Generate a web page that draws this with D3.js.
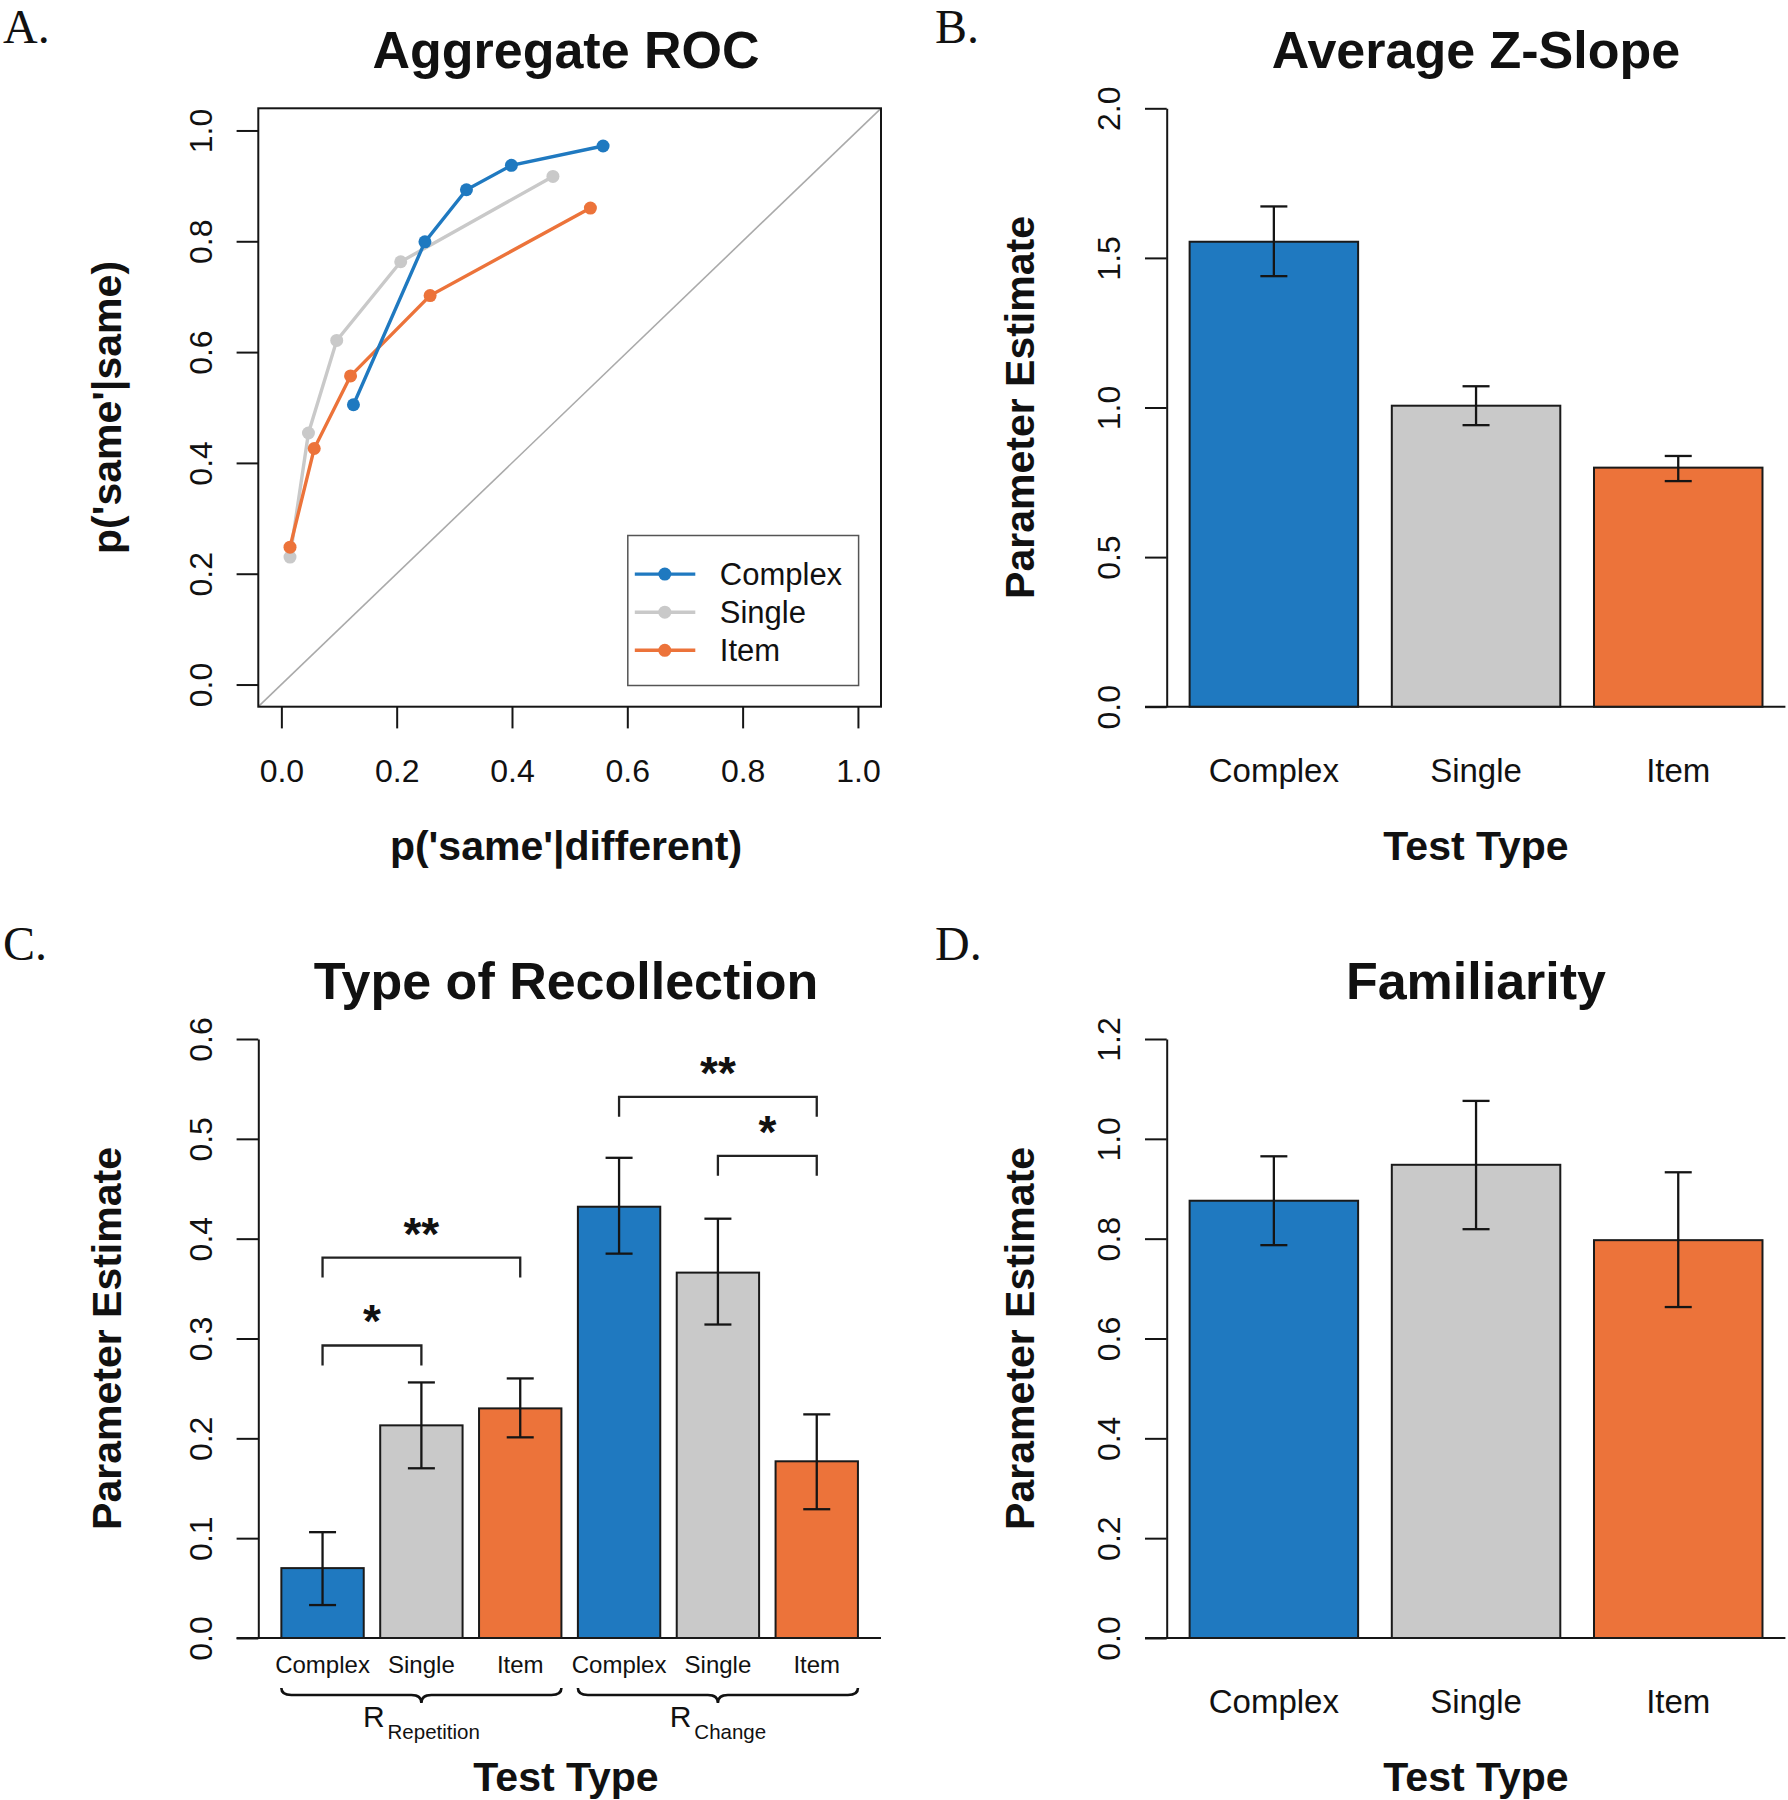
<!DOCTYPE html>
<html>
<head>
<meta charset="utf-8">
<script src="https://cdn.jsdelivr.net/npm/d3@7"></script>
<style>
  body { margin: 0; background: #fff; }
  svg text { font-family: "Liberation Sans", Arial, Helvetica, sans-serif; fill: #111; }
</style>
</head>
<body>
<div id="container"></div>
<script>
let testTypes = ["Complex", "Single", "Item"];
let colors = ["#1f79c0", "#c9c9c9", "#ec733a"];

// panel A - ROC points, x = p('same'|different), y = p('same'|same)
let rocComplexX = [0.125, 0.249, 0.321, 0.399, 0.558];
let rocComplexY = [0.505, 0.799, 0.893, 0.937, 0.972];
let rocSingleX = [0.015, 0.047, 0.096, 0.207, 0.471];
let rocSingleY = [0.230, 0.454, 0.621, 0.763, 0.917];
let rocItemX = [0.015, 0.057, 0.120, 0.258, 0.536];
let rocItemY = [0.248, 0.426, 0.557, 0.702, 0.860];

// panel B - average z-slope
let zSlope = [1.554, 1.006, 0.799];
let zSlopeLo = [1.439, 0.941, 0.754];
let zSlopeHi = [1.672, 1.071, 0.838];

// panel C - recollection (R repetition x3, R change x3)
let recLabels = ["Complex", "Single", "Item", "Complex", "Single", "Item"];
let recValues = [0.070, 0.213, 0.230, 0.432, 0.366, 0.177];
let recLo = [0.033, 0.170, 0.201, 0.385, 0.314, 0.129];
let recHi = [0.106, 0.256, 0.260, 0.481, 0.420, 0.224];
let recGroups = ["Repetition", "Change"];

// significance brackets in panel C
let sigFrom = [0, 0, 3, 4];
let sigTo = [1, 2, 5, 5];
let sigY = [0.293, 0.381, 0.542, 0.483];
let sigText = ["*", "**", "**", "*"];

// panel D - familiarity
let famValues = [0.876, 0.948, 0.797];
let famLo = [0.787, 0.819, 0.663];
let famHi = [0.965, 1.076, 0.933];

// tick labels
let rocTicks = [0, 0.2, 0.4, 0.6, 0.8, 1.0];
let slopeTicks = [0, 0.5, 1.0, 1.5, 2.0];
let recTicks = [0, 0.1, 0.2, 0.3, 0.4, 0.5, 0.6];
let famTicks = [0, 0.2, 0.4, 0.6, 0.8, 1.0, 1.2];


let w = 1788;
let h = 1800;
let tickLen = 21.7;
let ink = "#151515";

let colL = {left: 258.3, right: 881, mid: 566, ylab: 137};
let colR = {left: 1166.7, right: 1785.4, mid: 1476, ylab: 132.5};
let rowT = {top: 108.3, bottom: 706.7};
let rowB = {top: 1039, bottom: 1638};

let viz = d3.select("#container")
  .append("svg")
    .attr("width", w)
    .attr("height", h)
;


function panelText(col, row, letter, letterX, letterY, title, ylab){
  viz.append("text")
    .attr("x", letterX).attr("y", letterY)
    .style("font-family", "'Liberation Serif', 'Times New Roman', serif")
    .style("font-size", "48px")
    .text(letter);
  viz.append("text")
    .attr("x", col.mid).attr("y", row.top - 40.3)
    .attr("text-anchor", "middle")
    .style("font-size", "52px").style("font-weight", "bold")
    .text(title);
  viz.append("text")
    .attr("transform", "translate(" + (col.left - col.ylab) + "," + ((row.top + row.bottom) / 2) + ") rotate(-90)")
    .attr("text-anchor", "middle")
    .style("font-size", "41px").style("font-weight", "bold")
    .text(ylab);
}

function xTitle(col, row, label){
  viz.append("text")
    .attr("x", col.mid).attr("y", row.bottom + 153)
    .attr("text-anchor", "middle")
    .style("font-size", "41px").style("font-weight", "bold")
    .text(label);
}

// R style left axis, rotated tick labels
function yAxis(col, ys, ticks, keepDomain){
  let g = viz.append("g")
    .attr("transform", "translate(" + col.left + ",0)")
    .call(d3.axisLeft(ys).tickValues(ticks).tickSize(tickLen).tickSizeOuter(0).tickFormat(d3.format(".1f")))
  ;
  g.attr("font-size", null).attr("font-family", null).attr("color", ink);
  g.selectAll("line").attr("stroke-width", 2);
  g.select(".domain").attr("stroke-width", 2);
  if(!keepDomain){ g.select(".domain").remove(); }
  g.selectAll("text")
    .attr("x", 0).attr("y", -46.3).attr("dy", 0)
    .attr("transform", "rotate(-90)")
    .attr("text-anchor", "middle")
    .style("font-size", "32px");
}


// ---------- A. Aggregate ROC ----------
panelText(colL, rowT, "A.", 3, 43, "Aggregate ROC", "p('same'|same)");
xTitle(colL, rowT, "p('same'|different)");

let xsA = d3.scaleLinear().domain([-0.04, 1.04]).range([colL.left, colL.right]);
let ysA = d3.scaleLinear().domain([-0.04, 1.04]).range([rowT.bottom, rowT.top]);

viz.append("line")
  .attr("x1", xsA(-0.04)).attr("y1", ysA(-0.04))
  .attr("x2", xsA(1.04)).attr("y2", ysA(1.04))
  .attr("stroke", "#aaaaaa").attr("stroke-width", 1.6);

let xAxisA = viz.append("g")
  .attr("transform", "translate(0," + rowT.bottom + ")")
  .call(d3.axisBottom(xsA).tickValues(rocTicks).tickSize(tickLen).tickSizeOuter(0).tickFormat(d3.format(".1f")))
;
xAxisA.attr("font-size", null).attr("font-family", null).attr("color", ink);
xAxisA.select(".domain").remove();
xAxisA.selectAll("line").attr("stroke-width", 2);
xAxisA.selectAll("text").attr("y", 75).attr("dy", 0).style("font-size", "32px");

yAxis(colL, ysA, rocTicks, false);

let lineMaker = d3.line()
  .x(function(d){ return xsA(d[0]) })
  .y(function(d){ return ysA(d[1]) })
;

let rocSeries = [
  d3.zip(rocComplexX, rocComplexY),
  d3.zip(rocSingleX, rocSingleY),
  d3.zip(rocItemX, rocItemY)
];
// draw single, item, then complex on top
[1, 2, 0].forEach(function(k){
  viz.append("path")
    .datum(rocSeries[k])
    .attr("d", lineMaker)
    .attr("fill", "none")
    .attr("stroke", colors[k])
    .attr("stroke-width", 3.4);
  viz.selectAll(null).data(rocSeries[k]).enter()
    .append("circle")
      .attr("cx", function(d){ return xsA(d[0]) })
      .attr("cy", function(d){ return ysA(d[1]) })
      .attr("r", 6.5)
      .attr("fill", colors[k]);
});

viz.append("rect")
  .attr("x", colL.left).attr("y", rowT.top)
  .attr("width", colL.right - colL.left).attr("height", rowT.bottom - rowT.top)
  .attr("fill", "none").attr("stroke", ink).attr("stroke-width", 2);

// legend
let legend = viz.append("g").attr("transform", "translate(627.8,535.5)");
legend.append("rect")
  .attr("width", 230.8).attr("height", 150)
  .attr("fill", "#fff").attr("stroke", "#555").attr("stroke-width", 1.5);
testTypes.forEach(function(t, i){
  let ly = 38.6 + i * 38.1;
  legend.append("line")
    .attr("x1", 7).attr("x2", 67.5).attr("y1", ly).attr("y2", ly)
    .attr("stroke", colors[i]).attr("stroke-width", 3.4);
  legend.append("circle").attr("cx", 37).attr("cy", ly).attr("r", 6.5).attr("fill", colors[i]);
  legend.append("text")
    .attr("x", 92).attr("y", ly + 11)
    .style("font-size", "31px")
    .text(t);
});


// ---------- bar panels ----------
function barPanel(col, row, n, values, lo, hi, fills, yMax, ticks){
  let ext = 0.04 * (1.2 * n - 0.2);
  let xs = d3.scaleLinear().domain([0.2 - ext, 1.2 * n + ext]).range([col.left, col.right]);
  let ys = d3.scaleLinear().domain([0, yMax]).range([row.bottom, row.top]);

  viz.append("line")
    .attr("x1", col.left - tickLen).attr("x2", col.right)
    .attr("y1", ys(0)).attr("y2", ys(0))
    .attr("stroke", ink).attr("stroke-width", 2);

  viz.selectAll(null).data(values).enter()
    .append("rect")
      .attr("x", function(d, i){ return xs(0.2 + 1.2 * i) })
      .attr("y", function(d){ return ys(d) })
      .attr("width", xs(1) - xs(0))
      .attr("height", function(d){ return ys(0) - ys(d) })
      .attr("fill", function(d, i){ return fills[i % fills.length] })
      .attr("stroke", "#1a1a1a")
      .attr("stroke-width", 2);

  let eb = viz.selectAll(null).data(values).enter().append("g")
    .attr("stroke", ink).attr("stroke-width", 2.3);
  eb.append("line")
    .attr("x1", function(d, i){ return xs(0.7 + 1.2 * i) })
    .attr("x2", function(d, i){ return xs(0.7 + 1.2 * i) })
    .attr("y1", function(d, i){ return ys(lo[i]) })
    .attr("y2", function(d, i){ return ys(hi[i]) });
  [lo, hi].forEach(function(arr){
    eb.append("line")
      .attr("x1", function(d, i){ return xs(0.7 + 1.2 * i) - 13.5 })
      .attr("x2", function(d, i){ return xs(0.7 + 1.2 * i) + 13.5 })
      .attr("y1", function(d, i){ return ys(arr[i]) })
      .attr("y2", function(d, i){ return ys(arr[i]) });
  });

  yAxis(col, ys, ticks, true);
  return {xs: xs, ys: ys};
}

function catLabels(sc, row, labels, dy, size){
  viz.selectAll(null).data(labels).enter()
    .append("text")
      .attr("x", function(d, i){ return sc.xs(0.7 + 1.2 * i) })
      .attr("y", row.bottom + dy)
      .attr("text-anchor", "middle")
      .style("font-size", size)
      .text(function(d){ return d });
}


// ---------- B. Average Z-Slope ----------
panelText(colR, rowT, "B.", 935, 43, "Average Z-Slope", "Parameter Estimate");
xTitle(colR, rowT, "Test Type");
let scB = barPanel(colR, rowT, 3, zSlope, zSlopeLo, zSlopeHi, colors, 2.0, slopeTicks);
catLabels(scB, rowT, testTypes, 75.3, "33px");


// ---------- C. Type of Recollection ----------
panelText(colL, rowB, "C.", 3, 960, "Type of Recollection", "Parameter Estimate");
xTitle(colL, rowB, "Test Type");
let scC = barPanel(colL, rowB, 6, recValues, recLo, recHi, colors, 0.6, recTicks);
catLabels(scC, rowB, recLabels, 34.5, "24px");

// significance brackets
sigY.forEach(function(v, k){
  let xa = scC.xs(0.7 + 1.2 * sigFrom[k]);
  let xb = scC.xs(0.7 + 1.2 * sigTo[k]);
  let yTop = scC.ys(v);
  let yLeg = scC.ys(v - 0.02);
  viz.append("path")
    .attr("d", "M" + xa + "," + yLeg + "V" + yTop + "H" + xb + "V" + yLeg)
    .attr("fill", "none").attr("stroke", "#222").attr("stroke-width", 2.3);
  viz.append("text")
    .attr("x", (xa + xb) / 2).attr("y", yTop - 8)
    .attr("text-anchor", "middle")
    .style("font-size", "46px").style("font-weight", "bold")
    .text(sigText[k]);
});

// braces under the two groups
recGroups.forEach(function(grp, g){
  let x1 = scC.xs(0.2 + 3.6 * g);
  let x2 = scC.xs(3.6 + 3.6 * g);
  let cx = (x1 + x2) / 2;
  let y0 = rowB.bottom + 50;
  let ym = y0 + 7;
  let yt = y0 + 15;
  viz.append("path")
    .attr("d", "M" + x1 + "," + y0 + "Q" + x1 + "," + ym + " " + (x1 + 10) + "," + ym +
               "L" + (cx - 10) + "," + ym + "Q" + cx + "," + ym + " " + cx + "," + yt +
               "Q" + cx + "," + ym + " " + (cx + 10) + "," + ym +
               "L" + (x2 - 10) + "," + ym + "Q" + x2 + "," + ym + " " + x2 + "," + y0)
    .attr("fill", "none").attr("stroke", "#111").attr("stroke-width", 2.6);
  let lab = viz.append("text")
    .attr("x", cx).attr("y", rowB.bottom + 88.7)
    .attr("text-anchor", "middle")
    .style("font-size", "30px");
  lab.append("tspan").text("R");
  lab.append("tspan").attr("dx", 3).attr("dy", 12.6).style("font-size", "20.5px").text(grp);
});


// ---------- D. Familiarity ----------
panelText(colR, rowB, "D.", 935, 960, "Familiarity", "Parameter Estimate");
xTitle(colR, rowB, "Test Type");
let scD = barPanel(colR, rowB, 3, famValues, famLo, famHi, colors, 1.2, famTicks);
catLabels(scD, rowB, testTypes, 75.3, "33px");

</script>
</body>
</html>
